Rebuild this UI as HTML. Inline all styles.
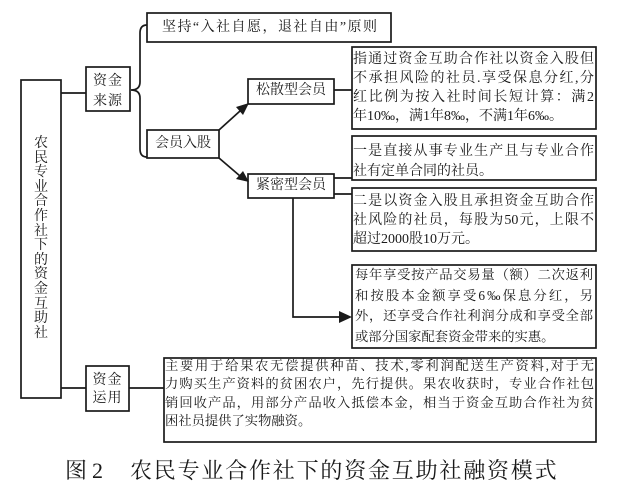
<!DOCTYPE html>
<html><head><meta charset="utf-8">
<style>
html,body{margin:0;padding:0;background:#fff;}
body{width:644px;height:494px;position:relative;overflow:hidden;font-family:"Liberation Serif","Noto Serif CJK SC",serif;color:#1a1a1a;}
svg{position:absolute;left:0;top:0;}
.t{position:absolute;white-space:nowrap;}
.j{text-align:justify;text-align-last:justify;}
.l{text-align:left;text-align-last:left;}
.c{text-align:center;}
</style></head><body>
<svg width="644" height="494" viewBox="0 0 644 494">
<g fill="none" stroke="#1a1a1a" stroke-width="1.7">
<rect x="21" y="80" width="40" height="318"/>
<line x1="61" y1="93" x2="86" y2="93"/>
<rect x="86" y="67" width="44" height="44"/>
<path d="M147,25 Q140,25 140,33 L140,82 Q140,90 131,90 Q140,90 140,98 L140,149 Q140,157 147,157"/>
<rect x="147" y="13" width="244" height="29"/>
<rect x="147" y="130" width="72" height="28"/>
<line x1="219" y1="130" x2="240" y2="111"/>
<line x1="219" y1="158" x2="240" y2="176"/>
<rect x="248" y="79" width="86" height="25"/>
<rect x="248" y="174" width="86" height="24"/>
<line x1="334" y1="90" x2="352" y2="90"/>
<line x1="334" y1="178" x2="352" y2="178"/>
<line x1="334" y1="194" x2="352" y2="194"/>
<rect x="352" y="47" width="244" height="82"/>
<rect x="352" y="136" width="244" height="44"/>
<rect x="352" y="188" width="244" height="63"/>
<polyline points="293,198 293,317 342,317"/>
<rect x="352" y="265" width="244" height="83"/>
<line x1="61" y1="388" x2="86" y2="388"/>
<rect x="86" y="366" width="43" height="45"/>
<line x1="129" y1="388" x2="164" y2="388"/>
<rect x="164" y="358" width="432" height="84"/>
</g>
<g fill="#1a1a1a">
<polygon points="249,103 236,107 243,115"/>
<polygon points="249,182 236,179 243,171"/>
<polygon points="352,317 339,311 339,323"/>
</g>
</svg>

<div class="t c" style="left:33px;top:137px;width:16px;font-size:14px;line-height:14.6px;white-space:normal;">农<br>民<br>专<br>业<br>合<br>作<br>社<br>下<br>的<br>资<br>金<br>互<br>助<br>社</div>

<div class="t c" style="left:86px;top:72px;width:44px;font-size:14px;line-height:20px;letter-spacing:1px;">资金<br>来源</div>
<div class="t c" style="left:86px;top:372px;width:43px;font-size:14px;line-height:18px;letter-spacing:1px;">资金<br>运用</div>

<div class="t j" style="left:162px;top:18px;width:215px;font-size:14px;line-height:20px;">坚持“入社自愿，退社自由”原则</div>
<div class="t c" style="left:147px;top:134px;width:72px;font-size:14px;line-height:20px;">会员入股</div>
<div class="t c" style="left:248px;top:81px;width:86px;font-size:14px;line-height:20px;">松散型会员</div>
<div class="t c" style="left:248px;top:176px;width:86px;font-size:14px;line-height:20px;">紧密型会员</div>

<div class="t" style="left:353px;top:50px;width:241px;font-size:14px;line-height:19px;">
<div class="j">指通过资金互助合作社以资金入股但</div>
<div class="j">不承担风险的社员.享受保息分红,分</div>
<div class="j">红比例为按入社时间长短计算：满2</div>
<div class="l">年10‰，满1年8‰，不满1年6‰。</div>
</div>

<div class="t" style="left:353px;top:142px;width:241px;font-size:14px;line-height:20px;">
<div class="j">一是直接从事专业生产且与专业合作</div>
<div class="l">社有定单合同的社员。</div>
</div>

<div class="t" style="left:353px;top:192px;width:241px;font-size:14px;line-height:19px;">
<div class="j">二是以资金入股且承担资金互助合作</div>
<div class="j">社风险的社员，每股为50元，上限不</div>
<div class="l">超过2000股10万元。</div>
</div>

<div class="t" style="left:355px;top:265px;width:238px;font-size:13.3px;line-height:20.7px;">
<div class="j">每年享受按产品交易量（额）二次返利</div>
<div class="j">和按股本金额享受6‰保息分红，另</div>
<div class="j">外，还享受合作社利润分成和享受全部</div>
<div class="l">或部分国家配套资金带来的实惠。</div>
</div>

<div class="t" style="left:165px;top:357px;width:429px;font-size:13.3px;line-height:18.3px;">
<div class="j">主要用于给果农无偿提供种苗、技术,零利润配送生产资料,对于无</div>
<div class="j">力购买生产资料的贫困农户，先行提供。果农收获时，专业合作社包</div>
<div class="j">销回收产品，用部分产品收入抵偿本金，相当于资金互助合作社为贫</div>
<div class="l">困社员提供了实物融资。</div>
</div>

<div class="t" style="left:65px;top:457px;font-size:22px;line-height:28px;">图</div>
<div class="t" style="left:92px;top:457px;font-size:22px;line-height:28px;">2</div>
<div class="t" style="left:130px;top:457px;font-size:22px;line-height:28px;letter-spacing:1.8px;">农民专业合作社下的资金互助社融资模式</div>
</body></html>
